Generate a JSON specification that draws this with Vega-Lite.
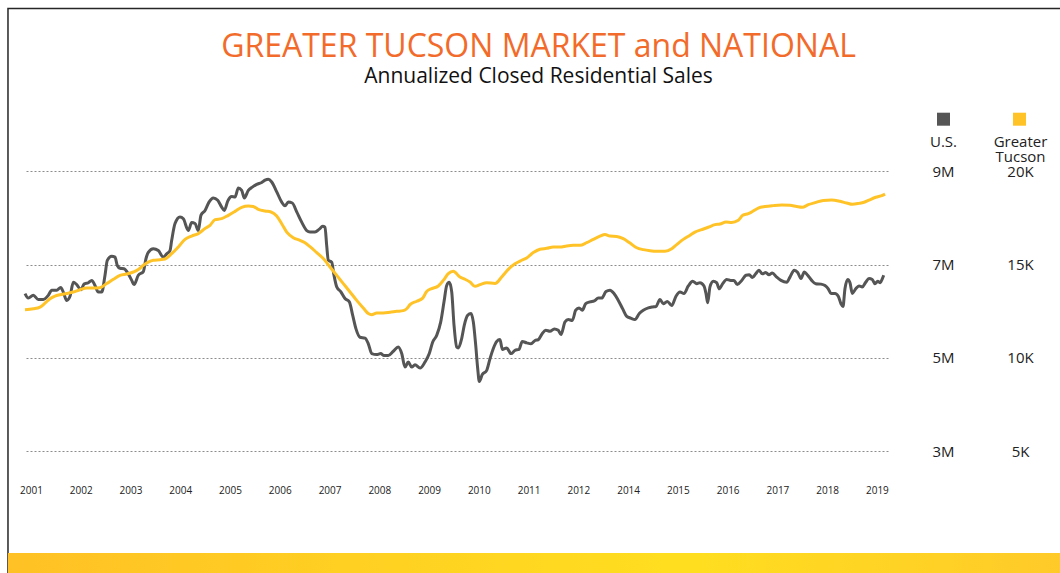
{
  "$schema": "https://vega.github.io/schema/vega-lite/v6.json",
  "width": 863,
  "height": 331,
  "autosize": {"type": "none"},
  "padding": {"left": 25, "top": 148, "right": 172, "bottom": 94},
  "background": "white",
  "title": {
    "text": "GREATER TUCSON MARKET and NATIONAL",
    "subtitle": "Annualized Closed Residential Sales",
    "anchor": "middle",
    "frame": "group",
    "dx": 82,
    "offset": -80,
    "font": "Open Sans",
    "fontSize": 32,
    "fontWeight": "normal",
    "color": "#F26B2A",
    "subtitleFont": "Open Sans",
    "subtitleFontSize": 21,
    "subtitleColor": "#111111",
    "subtitlePadding": 2
  },
  "config": {"view": {"stroke": null}, "font": "Open Sans"},
  "datasets": {
    "us": [
      {"t": -0.121, "millions": 6.375}, {"t": -0.054, "millions": 6.28}, {"t": 0.046, "millions": 6.34}, {"t": 0.147, "millions": 6.25}, {"t": 0.247, "millions": 6.25}, {"t": 0.348, "millions": 6.34}, {"t": 0.416, "millions": 6.45}, {"t": 0.516, "millions": 6.45}, {"t": 0.597, "millions": 6.51}, {"t": 0.649, "millions": 6.41}, {"t": 0.717, "millions": 6.23}, {"t": 0.784, "millions": 6.32}, {"t": 0.85, "millions": 6.62}, {"t": 0.918, "millions": 6.57}, {"t": 1.005, "millions": 6.46}, {"t": 1.065, "millions": 6.58}, {"t": 1.152, "millions": 6.61}, {"t": 1.22, "millions": 6.66}, {"t": 1.286, "millions": 6.55}, {"t": 1.352, "millions": 6.41}, {"t": 1.421, "millions": 6.41}, {"t": 1.487, "millions": 6.77}, {"t": 1.533, "millions": 7.09}, {"t": 1.622, "millions": 7.18}, {"t": 1.688, "millions": 7.16}, {"t": 1.734, "millions": 6.98}, {"t": 1.789, "millions": 6.92}, {"t": 1.869, "millions": 6.91}, {"t": 1.955, "millions": 6.8}, {"t": 2.024, "millions": 6.66}, {"t": 2.07, "millions": 6.57}, {"t": 2.156, "millions": 6.77}, {"t": 2.257, "millions": 6.85}, {"t": 2.311, "millions": 7.13}, {"t": 2.357, "millions": 7.26}, {"t": 2.458, "millions": 7.34}, {"t": 2.558, "millions": 7.3}, {"t": 2.659, "millions": 7.16}, {"t": 2.727, "millions": 7.23}, {"t": 2.793, "millions": 7.3}, {"t": 2.827, "millions": 7.52}, {"t": 2.894, "millions": 7.88}, {"t": 2.994, "millions": 8.02}, {"t": 3.061, "millions": 7.98}, {"t": 3.161, "millions": 7.73}, {"t": 3.229, "millions": 7.9}, {"t": 3.296, "millions": 7.88}, {"t": 3.362, "millions": 7.73}, {"t": 3.416, "millions": 8.06}, {"t": 3.497, "millions": 8.16}, {"t": 3.577, "millions": 8.34}, {"t": 3.663, "millions": 8.43}, {"t": 3.752, "millions": 8.38}, {"t": 3.832, "millions": 8.23}, {"t": 3.885, "millions": 8.16}, {"t": 3.953, "millions": 8.36}, {"t": 4.033, "millions": 8.46}, {"t": 4.1, "millions": 8.45}, {"t": 4.166, "millions": 8.64}, {"t": 4.234, "millions": 8.59}, {"t": 4.287, "millions": 8.43}, {"t": 4.367, "millions": 8.59}, {"t": 4.447, "millions": 8.66}, {"t": 4.536, "millions": 8.72}, {"t": 4.636, "millions": 8.76}, {"t": 4.703, "millions": 8.81}, {"t": 4.769, "millions": 8.83}, {"t": 4.837, "millions": 8.77}, {"t": 4.938, "millions": 8.56}, {"t": 5.038, "millions": 8.34}, {"t": 5.104, "millions": 8.26}, {"t": 5.171, "millions": 8.34}, {"t": 5.251, "millions": 8.32}, {"t": 5.34, "millions": 8.13}, {"t": 5.44, "millions": 7.91}, {"t": 5.541, "millions": 7.73}, {"t": 5.607, "millions": 7.7}, {"t": 5.707, "millions": 7.7}, {"t": 5.794, "millions": 7.76}, {"t": 5.862, "millions": 7.82}, {"t": 5.908, "millions": 7.8}, {"t": 5.942, "millions": 7.41}, {"t": 5.975, "millions": 7.09}, {"t": 6.043, "millions": 7.05}, {"t": 6.089, "millions": 6.77}, {"t": 6.144, "millions": 6.52}, {"t": 6.224, "millions": 6.42}, {"t": 6.31, "millions": 6.27}, {"t": 6.397, "millions": 6.2}, {"t": 6.465, "millions": 5.91}, {"t": 6.531, "millions": 5.62}, {"t": 6.612, "millions": 5.44}, {"t": 6.712, "millions": 5.42}, {"t": 6.779, "millions": 5.3}, {"t": 6.847, "millions": 5.09}, {"t": 6.947, "millions": 5.07}, {"t": 7.028, "millions": 5.09}, {"t": 7.094, "millions": 5.05}, {"t": 7.18, "millions": 5.05}, {"t": 7.281, "millions": 5.14}, {"t": 7.381, "millions": 5.23}, {"t": 7.45, "millions": 5.09}, {"t": 7.516, "millions": 4.8}, {"t": 7.582, "millions": 4.91}, {"t": 7.651, "millions": 4.8}, {"t": 7.717, "millions": 4.85}, {"t": 7.818, "millions": 4.78}, {"t": 7.918, "millions": 4.91}, {"t": 8.004, "millions": 5.09}, {"t": 8.073, "millions": 5.34}, {"t": 8.153, "millions": 5.48}, {"t": 8.234, "millions": 5.77}, {"t": 8.3, "millions": 6.2}, {"t": 8.354, "millions": 6.55}, {"t": 8.406, "millions": 6.62}, {"t": 8.455, "millions": 6.41}, {"t": 8.501, "millions": 5.7}, {"t": 8.555, "millions": 5.23}, {"t": 8.587, "millions": 5.21}, {"t": 8.655, "millions": 5.41}, {"t": 8.708, "millions": 5.7}, {"t": 8.776, "millions": 5.91}, {"t": 8.842, "millions": 5.95}, {"t": 8.889, "millions": 5.77}, {"t": 8.937, "millions": 5.27}, {"t": 8.977, "millions": 4.77}, {"t": 9.009, "millions": 4.49}, {"t": 9.069, "millions": 4.64}, {"t": 9.158, "millions": 4.73}, {"t": 9.224, "millions": 4.98}, {"t": 9.291, "millions": 5.2}, {"t": 9.359, "millions": 5.35}, {"t": 9.425, "millions": 5.39}, {"t": 9.472, "millions": 5.18}, {"t": 9.56, "millions": 5.21}, {"t": 9.646, "millions": 5.09}, {"t": 9.727, "millions": 5.16}, {"t": 9.807, "millions": 5.18}, {"t": 9.873, "millions": 5.35}, {"t": 9.962, "millions": 5.32}, {"t": 10.048, "millions": 5.3}, {"t": 10.129, "millions": 5.37}, {"t": 10.195, "millions": 5.39}, {"t": 10.275, "millions": 5.52}, {"t": 10.344, "millions": 5.59}, {"t": 10.43, "millions": 5.57}, {"t": 10.516, "millions": 5.62}, {"t": 10.597, "millions": 5.59}, {"t": 10.651, "millions": 5.5}, {"t": 10.732, "millions": 5.77}, {"t": 10.798, "millions": 5.82}, {"t": 10.878, "millions": 5.8}, {"t": 10.947, "millions": 6.02}, {"t": 11.013, "millions": 6.07}, {"t": 11.079, "millions": 6.02}, {"t": 11.148, "millions": 6.16}, {"t": 11.234, "millions": 6.2}, {"t": 11.32, "millions": 6.22}, {"t": 11.401, "millions": 6.28}, {"t": 11.469, "millions": 6.28}, {"t": 11.555, "millions": 6.42}, {"t": 11.636, "millions": 6.45}, {"t": 11.716, "millions": 6.38}, {"t": 11.803, "millions": 6.23}, {"t": 11.891, "millions": 6.05}, {"t": 11.972, "millions": 5.89}, {"t": 12.052, "millions": 5.85}, {"t": 12.138, "millions": 5.82}, {"t": 12.225, "millions": 5.95}, {"t": 12.305, "millions": 6.02}, {"t": 12.406, "millions": 6.07}, {"t": 12.494, "millions": 6.09}, {"t": 12.56, "millions": 6.1}, {"t": 12.641, "millions": 6.25}, {"t": 12.707, "millions": 6.16}, {"t": 12.787, "millions": 6.21}, {"t": 12.876, "millions": 6.12}, {"t": 12.962, "millions": 6.32}, {"t": 13.043, "millions": 6.41}, {"t": 13.123, "millions": 6.38}, {"t": 13.21, "millions": 6.54}, {"t": 13.298, "millions": 6.64}, {"t": 13.378, "millions": 6.59}, {"t": 13.444, "millions": 6.61}, {"t": 13.525, "millions": 6.54}, {"t": 13.565, "millions": 6.38}, {"t": 13.599, "millions": 6.18}, {"t": 13.645, "millions": 6.52}, {"t": 13.712, "millions": 6.64}, {"t": 13.78, "millions": 6.61}, {"t": 13.832, "millions": 6.48}, {"t": 13.901, "millions": 6.59}, {"t": 13.981, "millions": 6.68}, {"t": 14.061, "millions": 6.66}, {"t": 14.128, "millions": 6.66}, {"t": 14.194, "millions": 6.57}, {"t": 14.283, "millions": 6.66}, {"t": 14.369, "millions": 6.77}, {"t": 14.435, "millions": 6.78}, {"t": 14.496, "millions": 6.72}, {"t": 14.564, "millions": 6.8}, {"t": 14.63, "millions": 6.88}, {"t": 14.697, "millions": 6.8}, {"t": 14.765, "millions": 6.83}, {"t": 14.831, "millions": 6.78}, {"t": 14.897, "millions": 6.82}, {"t": 14.986, "millions": 6.73}, {"t": 15.072, "millions": 6.66}, {"t": 15.187, "millions": 6.62}, {"t": 15.253, "millions": 6.73}, {"t": 15.339, "millions": 6.88}, {"t": 15.408, "millions": 6.83}, {"t": 15.474, "millions": 6.7}, {"t": 15.541, "millions": 6.84}, {"t": 15.609, "millions": 6.77}, {"t": 15.689, "millions": 6.66}, {"t": 15.77, "millions": 6.59}, {"t": 15.876, "millions": 6.58}, {"t": 15.957, "millions": 6.55}, {"t": 16.023, "millions": 6.48}, {"t": 16.077, "millions": 6.38}, {"t": 16.158, "millions": 6.38}, {"t": 16.224, "millions": 6.32}, {"t": 16.278, "millions": 6.16}, {"t": 16.318, "millions": 6.1}, {"t": 16.358, "millions": 6.48}, {"t": 16.413, "millions": 6.68}, {"t": 16.459, "millions": 6.61}, {"t": 16.505, "millions": 6.38}, {"t": 16.574, "millions": 6.48}, {"t": 16.64, "millions": 6.54}, {"t": 16.706, "millions": 6.52}, {"t": 16.775, "millions": 6.62}, {"t": 16.841, "millions": 6.7}, {"t": 16.907, "millions": 6.68}, {"t": 16.961, "millions": 6.59}, {"t": 17.016, "millions": 6.64}, {"t": 17.069, "millions": 6.61}, {"t": 17.11, "millions": 6.7}, {"t": 17.137, "millions": 6.77}
    ],
    "tucson": [
      {"t": -0.121, "thousands": 12.58}, {"t": 0.046, "thousands": 12.63}, {"t": 0.181, "thousands": 12.72}, {"t": 0.281, "thousands": 12.93}, {"t": 0.382, "thousands": 13.17}, {"t": 0.482, "thousands": 13.31}, {"t": 0.583, "thousands": 13.38}, {"t": 0.717, "thousands": 13.45}, {"t": 0.85, "thousands": 13.53}, {"t": 0.985, "thousands": 13.65}, {"t": 1.119, "thousands": 13.74}, {"t": 1.252, "thousands": 13.74}, {"t": 1.387, "thousands": 13.76}, {"t": 1.521, "thousands": 13.98}, {"t": 1.654, "thousands": 14.21}, {"t": 1.789, "thousands": 14.42}, {"t": 1.923, "thousands": 14.49}, {"t": 2.056, "thousands": 14.6}, {"t": 2.156, "thousands": 14.73}, {"t": 2.257, "thousands": 14.96}, {"t": 2.357, "thousands": 15.13}, {"t": 2.458, "thousands": 15.23}, {"t": 2.592, "thousands": 15.26}, {"t": 2.693, "thousands": 15.3}, {"t": 2.827, "thousands": 15.58}, {"t": 2.96, "thousands": 15.94}, {"t": 3.095, "thousands": 16.35}, {"t": 3.229, "thousands": 16.53}, {"t": 3.362, "thousands": 16.66}, {"t": 3.497, "thousands": 16.93}, {"t": 3.597, "thousands": 17.1}, {"t": 3.698, "thousands": 17.41}, {"t": 3.832, "thousands": 17.46}, {"t": 3.965, "thousands": 17.64}, {"t": 4.1, "thousands": 17.85}, {"t": 4.234, "thousands": 18.07}, {"t": 4.367, "thousands": 18.14}, {"t": 4.467, "thousands": 18.11}, {"t": 4.568, "thousands": 17.96}, {"t": 4.703, "thousands": 17.87}, {"t": 4.823, "thousands": 17.82}, {"t": 4.938, "thousands": 17.6}, {"t": 5.038, "thousands": 17.19}, {"t": 5.139, "thousands": 16.74}, {"t": 5.271, "thousands": 16.44}, {"t": 5.406, "thousands": 16.3}, {"t": 5.507, "thousands": 16.17}, {"t": 5.607, "thousands": 15.96}, {"t": 5.742, "thousands": 15.64}, {"t": 5.874, "thousands": 15.32}, {"t": 6.009, "thousands": 14.87}, {"t": 6.144, "thousands": 14.42}, {"t": 6.276, "thousands": 13.98}, {"t": 6.411, "thousands": 13.53}, {"t": 6.545, "thousands": 13.08}, {"t": 6.678, "thousands": 12.67}, {"t": 6.779, "thousands": 12.37}, {"t": 6.847, "thousands": 12.31}, {"t": 6.947, "thousands": 12.4}, {"t": 7.08, "thousands": 12.4}, {"t": 7.215, "thousands": 12.44}, {"t": 7.349, "thousands": 12.49}, {"t": 7.482, "thousands": 12.53}, {"t": 7.55, "thousands": 12.63}, {"t": 7.617, "thousands": 12.85}, {"t": 7.751, "thousands": 13.03}, {"t": 7.872, "thousands": 13.2}, {"t": 7.952, "thousands": 13.56}, {"t": 8.053, "thousands": 13.71}, {"t": 8.185, "thousands": 13.85}, {"t": 8.286, "thousands": 14.15}, {"t": 8.386, "thousands": 14.51}, {"t": 8.487, "thousands": 14.64}, {"t": 8.62, "thousands": 14.33}, {"t": 8.722, "thousands": 14.21}, {"t": 8.822, "thousands": 14.06}, {"t": 8.923, "thousands": 13.83}, {"t": 9.023, "thousands": 13.92}, {"t": 9.158, "thousands": 14.03}, {"t": 9.325, "thousands": 13.98}, {"t": 9.459, "thousands": 14.33}, {"t": 9.592, "thousands": 14.74}, {"t": 9.727, "thousands": 15.04}, {"t": 9.861, "thousands": 15.23}, {"t": 9.962, "thousands": 15.35}, {"t": 10.095, "thousands": 15.64}, {"t": 10.229, "thousands": 15.82}, {"t": 10.364, "thousands": 15.87}, {"t": 10.496, "thousands": 15.94}, {"t": 10.631, "thousands": 15.94}, {"t": 10.765, "thousands": 16.0}, {"t": 10.898, "thousands": 16.03}, {"t": 11.033, "thousands": 16.03}, {"t": 11.167, "thousands": 16.17}, {"t": 11.3, "thousands": 16.35}, {"t": 11.435, "thousands": 16.52}, {"t": 11.535, "thousands": 16.61}, {"t": 11.636, "thousands": 16.53}, {"t": 11.77, "thousands": 16.51}, {"t": 11.903, "thousands": 16.39}, {"t": 12.038, "thousands": 16.15}, {"t": 12.173, "thousands": 15.9}, {"t": 12.305, "thousands": 15.8}, {"t": 12.44, "thousands": 15.74}, {"t": 12.574, "thousands": 15.71}, {"t": 12.741, "thousands": 15.71}, {"t": 12.876, "thousands": 15.85}, {"t": 12.976, "thousands": 16.07}, {"t": 13.109, "thousands": 16.35}, {"t": 13.244, "thousands": 16.57}, {"t": 13.344, "thousands": 16.74}, {"t": 13.479, "thousands": 16.87}, {"t": 13.611, "thousands": 17.0}, {"t": 13.746, "thousands": 17.14}, {"t": 13.846, "thousands": 17.17}, {"t": 13.967, "thousands": 17.28}, {"t": 14.081, "thousands": 17.25}, {"t": 14.214, "thousands": 17.37}, {"t": 14.303, "thousands": 17.64}, {"t": 14.415, "thousands": 17.73}, {"t": 14.483, "thousands": 17.82}, {"t": 14.616, "thousands": 18.03}, {"t": 14.751, "thousands": 18.11}, {"t": 14.918, "thousands": 18.16}, {"t": 15.087, "thousands": 18.19}, {"t": 15.253, "thousands": 18.18}, {"t": 15.388, "thousands": 18.11}, {"t": 15.5, "thousands": 18.07}, {"t": 15.621, "thousands": 18.21}, {"t": 15.756, "thousands": 18.32}, {"t": 15.923, "thousands": 18.44}, {"t": 16.091, "thousands": 18.46}, {"t": 16.258, "thousands": 18.39}, {"t": 16.393, "thousands": 18.3}, {"t": 16.505, "thousands": 18.23}, {"t": 16.64, "thousands": 18.28}, {"t": 16.741, "thousands": 18.34}, {"t": 16.843, "thousands": 18.46}, {"t": 16.977, "thousands": 18.61}, {"t": 17.112, "thousands": 18.71}, {"t": 17.164, "thousands": 18.78}
    ]
  },
  "layer": [
    {
      "layer": [
        {
          "data": {"values": [{}]},
          "mark": {"type": "rect", "fill": "transparent", "stroke": "#262626", "strokeWidth": 1.5},
          "encoding": {
            "x": {"datum": -0.463, "type": "quantitative", "scale": {"domain": [-0.121, 17.223]}},
            "x2": {"datum": 21.5},
            "y": {"datum": 12.49, "type": "quantitative", "scale": {"domain": [2.4, 9.5]}},
            "y2": {"datum": 0.2}
          }
        },
        {
          "data": {"values": [{}]},
          "mark": {
            "type": "rect",
            "fill": {
              "gradient": "linear", "x1": 0, "y1": 0, "x2": 1, "y2": 0,
              "stops": [
                {"offset": 0, "color": "#FFC125"},
                {"offset": 0.62, "color": "#FFDE1F"},
                {"offset": 1, "color": "#FFC82A"}
              ]
            }
          },
          "encoding": {
            "x": {"datum": -0.463, "type": "quantitative", "scale": {"domain": [-0.121, 17.223]}},
            "x2": {"datum": 21.5},
            "y": {"datum": 0.813, "type": "quantitative", "scale": {"domain": [2.4, 9.5]}},
            "y2": {"datum": -0.2}
          }
        },
        {
          "data": {"name": "us"},
          "mark": {"type": "line", "interpolate": "monotone", "strokeWidth": 3},
          "encoding": {
            "x": {
              "field": "t", "type": "quantitative",
              "scale": {"domain": [-0.121, 17.223]},
              "axis": {
                "title": null,
                "values": [0, 1, 2, 3, 4, 5, 6, 7, 8, 9, 10, 11, 12, 13, 14, 15, 16, 17],
                "labelExpr": "['2001','2002','2003','2004','2005','2006','2007','2008','2009','2010','2011','2012','2014','2015','2016','2017','2018','2019'][datum.value]",
                "domain": false, "ticks": false, "tickSize": 0, "grid": false,
                "labelPadding": 6, "labelFontSize": 10, "labelColor": "#222222",
                "labelFont": "Open Sans", "labelFlush": false, "labelOverlap": false
              }
            },
            "y": {
              "field": "millions", "type": "quantitative",
              "scale": {"domain": [2.4, 9.5]},
              "axis": {
                "orient": "right",
                "values": [3, 5, 7, 9],
                "labelExpr": "datum.value + 'M'",
                "grid": true, "gridDash": [2, 2], "gridColor": "#8c8c8c", "gridWidth": 1,
                "domain": false, "ticks": false, "tickSize": 0,
                "labelPadding": 55, "labelAlign": "center", "labelBaseline": "middle",
                "labelFontSize": 15, "labelColor": "#222222", "labelFont": "Open Sans",
                "title": "U.S.", "titleAngle": 0, "titleAlign": "center", "titleBaseline": "middle",
                "titleX": 55, "titleY": -7, "titleFontSize": 15, "titleFontWeight": "normal",
                "titleColor": "#222222", "titleFont": "Open Sans"
              }
            },
            "color": {
              "datum": "U.S.",
              "scale": {"domain": ["U.S.", "Greater Tucson"], "range": ["#555555", "#FFC328"]},
              "legend": {
                "orient": "none", "legendX": 912, "legendY": -35.3, "direction": "horizontal",
                "title": null, "symbolType": "square", "symbolSize": 169, "symbolStrokeWidth": 0,
                "labelExpr": "''", "labelOffset": 0, "columnPadding": 63, "padding": 0,
                "encode": {"symbols": {"update": {"fill": {"scale": "color", "field": "value"}, "opacity": {"value": 1}}}}
              }
            }
          }
        }
      ]
    },
    {
      "data": {"name": "tucson"},
      "mark": {"type": "line", "interpolate": "monotone", "strokeWidth": 3},
      "encoding": {
        "x": {"field": "t", "type": "quantitative", "scale": {"domain": [-0.121, 17.223]}},
        "y": {
          "field": "thousands", "type": "quantitative",
          "scale": {"domain": [3.5, 21.25]},
          "axis": {
            "orient": "right",
            "values": [5, 10, 15, 20],
            "labelExpr": "datum.value + 'K'",
            "grid": false, "domain": false, "ticks": false, "tickSize": 0,
            "labelPadding": 132, "labelAlign": "center", "labelBaseline": "middle",
            "labelFontSize": 15, "labelColor": "#222222", "labelFont": "Open Sans",
            "title": ["Greater", "Tucson"], "titleAngle": 0, "titleAlign": "center", "titleBaseline": "middle",
            "titleX": 132, "titleY": -7, "titleLineHeight": 15, "titleFontSize": 15, "titleFontWeight": "normal",
            "titleColor": "#222222", "titleFont": "Open Sans"
          }
        },
        "color": {"datum": "Greater Tucson"}
      }
    }
  ],
  "resolve": {"scale": {"y": "independent"}, "axis": {"y": "independent"}}
}
